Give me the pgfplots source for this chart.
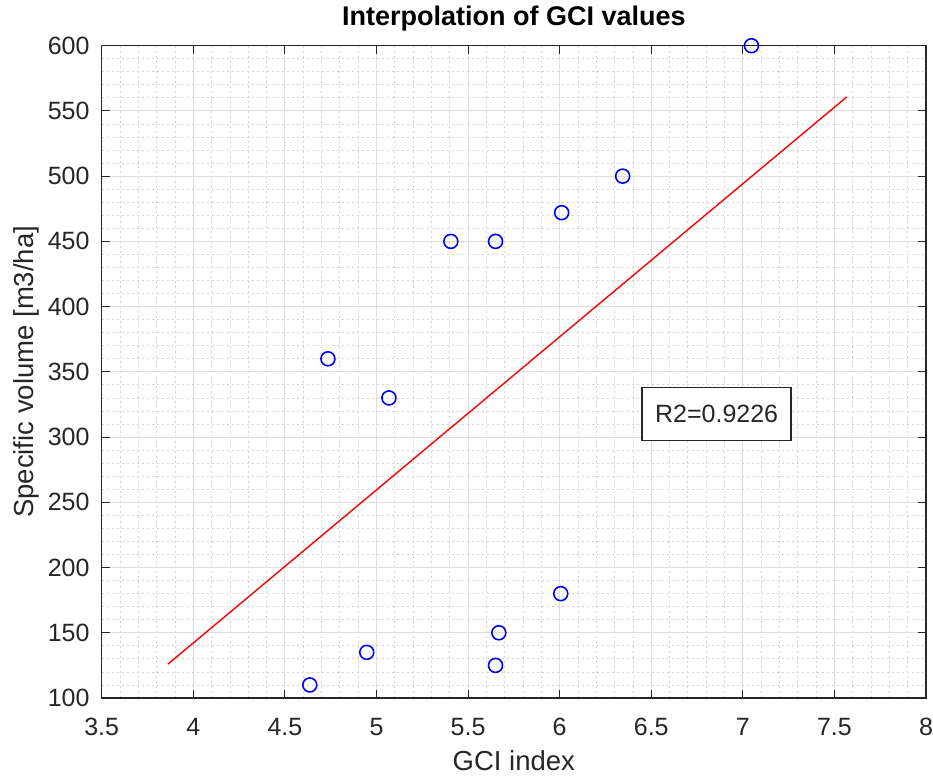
\documentclass[border=0pt]{standalone}
\usepackage{fontspec}
\setmainfont{Liberation Sans}
\usepackage{pgfplots}
\pgfplotsset{compat=1.18}
\definecolor{axcol}{RGB}{38,38,38}
\definecolor{gridmaj}{RGB}{222,222,222}
\definecolor{gridmin}{RGB}{212,212,212}
\begin{document}
\begin{tikzpicture}[x=1pt,y=1pt]
\useasboundingbox (0,0) rectangle (933,778);
\begin{axis}[
  at={(101.7pt,80pt)}, anchor=south west,
  scale only axis, width=824.3pt, height=652.3pt,
  xmin=3.5, xmax=8, ymin=100, ymax=600,
  xtick={3.5,4,...,8}, ytick={100,150,...,600},
  xticklabels={3.5,4,4.5,5,5.5,6,6.5,7,7.5,8},
  minor x tick num=4, minor y tick num=4,
  grid=both,
  major grid style={gridmaj, line width=1pt},
  minor grid style={gridmin, dash pattern=on 2pt off 3pt, line width=0.8pt},
  axis line style={axcol, line width=1.3pt},
  tick style={axcol, line width=1.1pt},
  major tick length=8pt, minor tick length=0pt,
  tick align=inside,
  /pgf/number format/assume math mode=true,
  tick label style={font=\fontsize{25}{30}\selectfont, text=axcol},
  xticklabel style={anchor=base, inner sep=0pt, yshift=-37pt},
  yticklabel style={anchor=east, inner sep=0pt, xshift=-12pt},
  title={\bfseries Interpolation of GCI values},
  title style={at={(axis description cs:0.5,1.0225)}, anchor=base, font=\fontsize{27}{32}\selectfont, inner sep=0pt},
  xlabel={GCI index},
  xlabel style={at={(axis description cs:0.5,-0.1104)}, anchor=base, font=\fontsize{27.5}{32}\selectfont, text=axcol, inner sep=0pt},
  ylabel={Specific volume [m3/ha]},
  ylabel style={at={(axis description cs:-0.0833,0.5)}, anchor=base, rotate=0, font=\fontsize{27.5}{32}\selectfont, text=axcol, inner sep=0pt},
  clip=false,
]
\addplot[red, line width=1.4pt, no markers] coordinates {(3.862,126) (7.567,560.7)};
\addplot[only marks, mark=o, mark size=7pt, mark options={blue, line width=1.6pt}] coordinates {
(4.636,110) (4.735,360) (4.947,135) (5.068,330) (5.406,450) (5.650,450)
(5.650,125) (5.668,150) (6.011,472) (6.006,180) (6.344,500) (7.047,600)};
\node[draw=axcol, line width=1.5pt, fill=white, inner xsep=0pt, inner ysep=0pt,
  minimum width=149pt, minimum height=53pt, font=\fontsize{25}{30}\selectfont, text=axcol]
  at (axis cs:6.857,317.7) {R2=0.9226};
\end{axis}
\end{tikzpicture}
\end{document}
